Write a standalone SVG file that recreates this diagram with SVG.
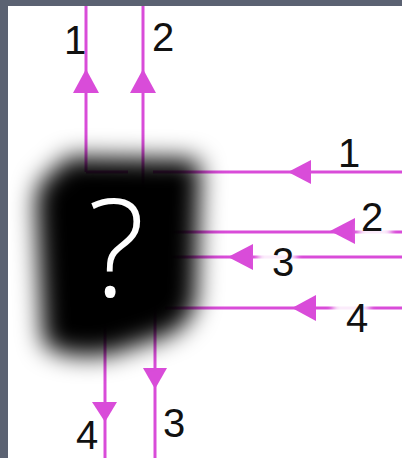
<svg xmlns="http://www.w3.org/2000/svg" width="402" height="458" viewBox="0 0 402 458">
  <style>
    .wire { stroke: #d94cd9; stroke-width: 3; fill: none; }
    .head { fill: #d94cd9; }
    .num { font-family: "Liberation Sans", Arial, sans-serif; font-size: 40px; fill: #111; text-anchor: middle; }
    .qm { font-family: "Open Sans", "Liberation Sans", sans-serif; font-weight: 300; font-size: 136px; fill: #fff; text-anchor: middle; }
  </style>
  <defs>
    <filter id="soft" x="-40%" y="-40%" width="180%" height="180%">
      <feGaussianBlur stdDeviation="12"/>
    </filter>
    <filter id="haze" x="-20%" y="-20%" width="140%" height="140%">
      <feGaussianBlur stdDeviation="3"/>
    </filter>
  </defs>

  <!-- frame and white panel -->
  <rect x="0" y="0" width="402" height="458" fill="#5b6272"/>
  <rect x="8" y="6" width="394" height="452" fill="#ffffff"/>

  <g id="connectors">
    <!-- outputs going up -->
    <line class="wire" x1="86" y1="6" x2="86" y2="172"/>
    <line class="wire" x1="143" y1="6" x2="143" y2="195"/>
    <polygon class="head" points="86,69 73,93 99,93"/>
    <polygon class="head" points="143,69 130,93 156,93"/>

    <!-- inputs from the right -->
    <line class="wire" x1="86" y1="172" x2="128" y2="172"/>
    <line class="wire" x1="153" y1="172" x2="402" y2="172"/>
    <line class="wire" x1="170" y1="232" x2="402" y2="232"/>
    <line class="wire" x1="170" y1="257" x2="402" y2="257"/>
    <line class="wire" x1="165" y1="308" x2="402" y2="308"/>
    <polygon class="head" points="288,172 311,160 311,184"/>
    <polygon class="head" points="330,231 355,218 355,244"/>
    <polygon class="head" points="228,257 253,244 253,270"/>
    <polygon class="head" points="292,308 316,295 316,321"/>

    <!-- outputs going down -->
    <line class="wire" x1="105" y1="320" x2="105" y2="458"/>
    <line class="wire" x1="155" y1="300" x2="155" y2="458"/>
    <polygon class="head" points="143,368 167,368 155,389"/>
    <polygon class="head" points="92,402 117,402 105,422"/>

    <!-- label backings that break the wires -->
    <g filter="url(#haze)" fill="#ffffff" opacity="0.9">
      <rect x="359" y="224" width="32" height="16"/>
      <rect x="258" y="249" width="38" height="16"/>
      <rect x="333" y="300" width="36" height="16"/>
    </g>

    <!-- wire numbers -->
    <text class="num" x="75" y="54">1</text>
    <text class="num" x="163" y="51">2</text>
    <text class="num" x="349" y="167">1</text>
    <text class="num" x="372" y="231">2</text>
    <text class="num" x="283" y="276">3</text>
    <text class="num" x="357" y="332">4</text>
    <text class="num" x="87" y="449">4</text>
    <text class="num" x="174" y="437">3</text>
  </g>

  <!-- the unknown box -->
  <g id="box">
    <path d="M68,157 L192,159 Q201,161 200,176 L196,300 Q191,326 165,336 L110,354 Q58,360 43,342 L36,200 Q38,180 54,171 Z" fill="#000" filter="url(#soft)"/>
    <text class="qm" x="116" y="297">?</text>
  </g>
</svg>
